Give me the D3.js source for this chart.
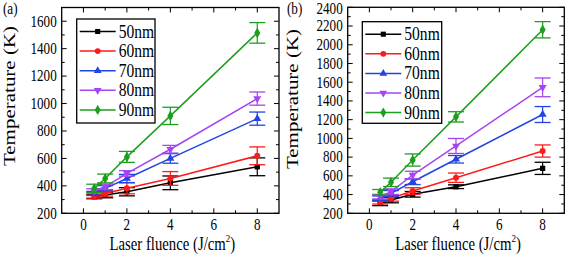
<!DOCTYPE html>
<html>
<head>
<meta charset="utf-8">
<script src="https://cdn.jsdelivr.net/npm/d3@7"></script>
<style>
  body { margin: 0; background: #fff; }
  svg { display: block; }
</style>
</head>
<body>
<svg id="chart" width="567" height="258" font-family="'Liberation Serif', 'Times New Roman', Times, serif"></svg>
<script>
// fluence values (J/cm2), same for every series
var fluence = [0.5, 1, 2, 4, 8];
var seriesNames = ['50nm', '60nm', '70nm', '80nm', '90nm'];
var colors = ['#000000', '#ff1a1a', '#2244e0', '#a444f2', '#1e9e1e'];
var symbols = [d3.symbolSquare, d3.symbolCircle, d3.symbolTriangle, d3.symbolTriangle, d3.symbolDiamond];

// panel (a)
var a50 = [321, 333, 357, 422, 539];
var a60 = [326, 345, 382, 454, 619];
var a70 = [345, 382, 454, 600, 890];
var a80 = [364, 393, 491, 667, 1036];
var a90 = [382, 454, 611, 910, 1515];
var aErr50 = [15, 20, 30, 50, 65];
var aErr60 = [15, 20, 40, 50, 65];
var aErr70 = [15, 20, 30, 35, 48];
var aErr80 = [15, 20, 20, 28, 48];
var aErr90 = [30, 32, 40, 63, 75];

// panel (b)
var b50 = [307, 342, 403, 484, 680];
var b60 = [324, 360, 438, 580, 865];
var b70 = [360, 413, 537, 777, 1255];
var b80 = [377, 431, 609, 919, 1545];
var b90 = [424, 531, 769, 1230, 2160];
var bErr50 = [25, 30, 30, 20, 65];
var bErr60 = [25, 30, 35, 50, 65];
var bErr70 = [25, 30, 30, 40, 85];
var bErr80 = [25, 30, 40, 80, 100];
var bErr90 = [30, 45, 65, 55, 87];

var xTicks = [0, 2, 4, 6, 8];
var aYTicks = [200, 400, 600, 800, 1000, 1200, 1400, 1600];
var bYTicks = [200, 400, 600, 800, 1000, 1200, 1400, 1600, 1800, 2000, 2200, 2400];

var svg = d3.select('#chart');
var SX = 0.82; // glyphs in the picture are narrow

function hText(g, x, y, str, size, anchor) {
  return g.append('text')
    .attr('transform', 'translate(' + x + ',' + y + ') scale(' + SX + ',1)')
    .attr('font-size', size + 'px')
    .attr('text-anchor', anchor || 'start')
    .attr('fill', '#000')
    .text(str);
}

function drawPanel(p) {
  var g = svg.append('g');
  var x = d3.scaleLinear().domain([-1, 9]).range([p.left, p.right]);
  var y = d3.scaleLinear().domain(p.yDomain).range([p.bottom, p.top]);

  // frame
  g.append('rect')
    .attr('x', p.left).attr('y', p.top)
    .attr('width', p.right - p.left).attr('height', p.bottom - p.top)
    .attr('fill', 'none').attr('stroke', '#000').attr('stroke-width', 1.3);

  // x ticks, inward, mirrored on top
  d3.range(0, 9).forEach(function(v) {
    var len = v % 2 === 0 ? 5 : 3;
    g.append('line').attr('x1', x(v)).attr('x2', x(v))
      .attr('y1', p.bottom).attr('y2', p.bottom - len)
      .attr('stroke', '#000').attr('stroke-width', 1);
    g.append('line').attr('x1', x(v)).attr('x2', x(v))
      .attr('y1', p.top).attr('y2', p.top + len)
      .attr('stroke', '#000').attr('stroke-width', 1);
  });
  xTicks.forEach(function(v) {
    hText(g, x(v), p.bottom + 17, v, 16, 'middle');
  });

  // y ticks, every 100, labels every 200
  d3.range(p.yDomain[0], p.yDomain[1] + 1, 100).forEach(function(v) {
    var len = v % 200 === 0 ? 5 : 3;
    g.append('line').attr('x1', p.left).attr('x2', p.left + len)
      .attr('y1', y(v)).attr('y2', y(v))
      .attr('stroke', '#000').attr('stroke-width', 1);
    g.append('line').attr('x1', p.right).attr('x2', p.right - len)
      .attr('y1', y(v)).attr('y2', y(v))
      .attr('stroke', '#000').attr('stroke-width', 1);
  });
  p.yTicks.forEach(function(v) {
    hText(g, p.left - 5, Math.max(y(v) + 5.3, 13.5), v, 16, 'end');
  });

  // axis titles
  var xt = g.append('text')
    .attr('transform', 'translate(' + ((p.left + p.right) / 2 + 2) + ',' + 250 + ') scale(' + SX + ',1)')
    .attr('font-size', '18px')
    .attr('text-anchor', 'middle');
  xt.append('tspan').text('Laser fluence (J/cm');
  xt.append('tspan').attr('font-size', '11px').attr('dy', -8).text('2');
  xt.append('tspan').attr('dy', 8).text(')');

  g.append('text')
    .attr('transform', 'translate(' + p.yTitleX + ',' + p.yTitleY + ') rotate(-90) scale(1,' + SX + ')')
    .attr('font-size', '21px')
    .attr('text-anchor', 'middle')
    .text('Temperature (K)');

  hText(g, p.tagX, 14, p.tag, 16, 'start');

  // series: error bars, lines, markers
  var line = d3.line()
    .x(function(d) { return x(d.x); })
    .y(function(d) { return y(d.y); });

  p.series.forEach(function(vals, i) {
    var pts = fluence.map(function(f, j) {
      return {x: f, y: vals[j], e: p.errors[i][j]};
    });
    var c = colors[i];
    var sg = g.append('g');
    pts.forEach(function(d) {
      var cx = x(d.x);
      sg.append('line').attr('x1', cx).attr('x2', cx)
        .attr('y1', y(d.y - d.e)).attr('y2', y(d.y + d.e))
        .attr('stroke', c).attr('stroke-width', 1.2);
      [d.y - d.e, d.y + d.e].forEach(function(v) {
        sg.append('line').attr('x1', cx - 8).attr('x2', cx + 8)
          .attr('y1', y(v)).attr('y2', y(v))
          .attr('stroke', c).attr('stroke-width', 1.3);
      });
    });
    sg.append('path').datum(pts)
      .attr('fill', 'none').attr('stroke', c).attr('stroke-width', 1.5)
      .attr('d', line);
    sg.selectAll('path.pt').data(pts).enter().append('path')
      .attr('class', 'pt')
      .attr('transform', function(d) {
        return 'translate(' + x(d.x) + ',' + y(d.y) + ')' + (i === 3 ? ' rotate(180)' : '');
      })
      .attr('d', d3.symbol().type(symbols[i]).size(i === 4 ? 32 : 28))
      .attr('fill', c);
  });

  // legend
  var lg = g.append('g');
  lg.append('rect')
    .attr('x', p.legend.x).attr('y', p.legend.y)
    .attr('width', p.legend.w).attr('height', p.legend.h)
    .attr('fill', '#fff').attr('stroke', '#000').attr('stroke-width', 1.3);
  seriesNames.forEach(function(name, i) {
    var ly = p.legend.y + 12.5 + i * 19.6;
    var x0 = p.legend.x + 3, x1 = p.legend.x + 39;
    lg.append('line').attr('x1', x0).attr('x2', x1)
      .attr('y1', ly).attr('y2', ly)
      .attr('stroke', colors[i]).attr('stroke-width', 1.5);
    lg.append('path')
      .attr('transform', 'translate(' + ((x0 + x1) / 2) + ',' + ly + ')' + (i === 3 ? ' rotate(180)' : ''))
      .attr('d', d3.symbol().type(symbols[i]).size(i === 4 ? 30 : 26))
      .attr('fill', colors[i]);
    hText(lg, x1 + 3, ly + 6, name, 19, 'start');
  });
}

drawPanel({
  tag: '(a)', tagX: 3,
  left: 61.7, right: 279, top: 7.5, bottom: 213.3,
  yDomain: [200, 1700], yTicks: aYTicks,
  yTitleX: 15, yTitleY: 96,
  series: [a50, a60, a70, a80, a90],
  errors: [aErr50, aErr60, aErr70, aErr80, aErr90],
  legend: {x: 76.7, y: 19, w: 78.3, h: 104}
});

drawPanel({
  tag: '(b)', tagX: 287,
  left: 347.7, right: 564.3, top: 7.3, bottom: 213.3,
  yDomain: [200, 2400], yTicks: bYTicks,
  yTitleX: 298, yTitleY: 99,
  series: [b50, b60, b70, b80, b90],
  errors: [bErr50, bErr60, bErr70, bErr80, bErr90],
  legend: {x: 362.3, y: 21.7, w: 79.4, h: 101.6}
});
</script>
</body>
</html>
